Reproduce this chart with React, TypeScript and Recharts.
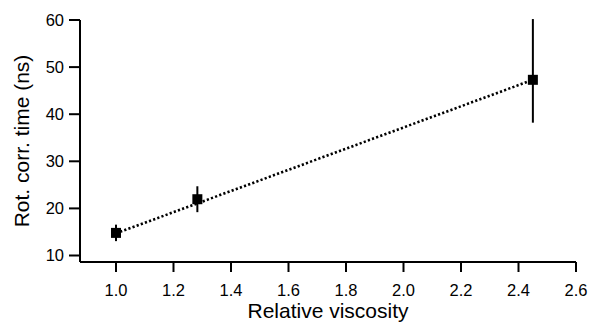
// Rotational correlation time vs relative viscosity, with linear fit
import React from "react";
import {
  ScatterChart,
  Scatter,
  XAxis,
  YAxis,
  ErrorBar,
} from "recharts";

const viscosity = [1.0, 1.283, 2.45];
const corrTime = [14.8, 21.95, 47.3];
const errLow = [1.75, 2.75, 9.1];
const errHigh = [1.75, 2.75, 12.9];

const fitX = [1.0, 2.45];
const fitY = [14.7, 47.3];

const xTicks = [1.0, 1.2, 1.4, 1.6, 1.8, 2.0, 2.2, 2.4, 2.6];
const yTicks = [10, 20, 30, 40, 50, 60];

const points = viscosity.map((x, i) => ({
  x,
  y: corrTime[i],
  err: [errLow[i], errHigh[i]],
}));
const fit = fitX.map((x, i) => ({ x, y: fitY[i] }));

const FONT = '"Liberation Sans", Arial, Helvetica, sans-serif';

const Square = (props: any) => (
  <rect x={props.cx - 5} y={props.cy - 5} width={10} height={10} fill="#000" />
);

const Nothing = () => <g />;

export default function App() {
  return (
    <div
      style={{
        position: "absolute",
        left: 0,
        top: 0,
        width: 590,
        height: 323,
        background: "#fff",
        overflow: "hidden",
      }}
    >
      <ScatterChart
        width={590}
        height={323}
        margin={{ top: 20, right: 14, left: 0, bottom: 0 }}
      >
        <XAxis
          type="number"
          dataKey="x"
          domain={[0.8748, 2.6]}
          allowDataOverflow
          ticks={xTicks}
          tickFormatter={(v) => v.toFixed(1)}
          height={61}
          stroke="#000"
          axisLine={{ stroke: "#000", strokeWidth: 2 }}
          tickLine={{ stroke: "#000", strokeWidth: 2 }}
          tickSize={10}
          tickMargin={12}
          tick={{ fill: "#000", fontSize: 16.5, fontFamily: FONT }}
          label={(p: any) => {
            const vb = p.viewBox || {};
            return (
              <text
                x={vb.x + vb.width / 2}
                y={318}
                textAnchor="middle"
                fontSize={21}
                fontFamily={FONT}
                fill="#000"
              >
                Relative viscosity
              </text>
            );
          }}
        />
        <YAxis
          type="number"
          dataKey="y"
          domain={[8.62, 60]}
          allowDataOverflow
          ticks={yTicks}
          width={80}
          stroke="#000"
          axisLine={{ stroke: "#000", strokeWidth: 2 }}
          tickLine={{ stroke: "#000", strokeWidth: 2 }}
          tickSize={11}
          tickMargin={5}
          tick={{ fill: "#000", fontSize: 16.5, fontFamily: FONT }}
          label={(p: any) => {
            const vb = p.viewBox || {};
            const cy = vb.y + vb.height / 2;
            return (
              <text
                x={29}
                y={cy}
                transform={`rotate(-90 29 ${cy})`}
                textAnchor="middle"
                fontSize={21}
                fontFamily={FONT}
                fill="#000"
              >
                Rot. corr. time (ns)
              </text>
            );
          }}
        />
        <Scatter
          data={fit}
          shape={Nothing}
          line={{ stroke: "#000", strokeWidth: 2.6, strokeDasharray: "2.2 2.2" }}
          isAnimationActive={false}
        />
        <Scatter data={points} shape={Square} isAnimationActive={false}>
          <ErrorBar
            dataKey="err"
            direction="y"
            width={0}
            stroke="#000"
            strokeWidth={2}
            isAnimationActive={false}
          />
        </Scatter>
      </ScatterChart>
    </div>
  );
}
